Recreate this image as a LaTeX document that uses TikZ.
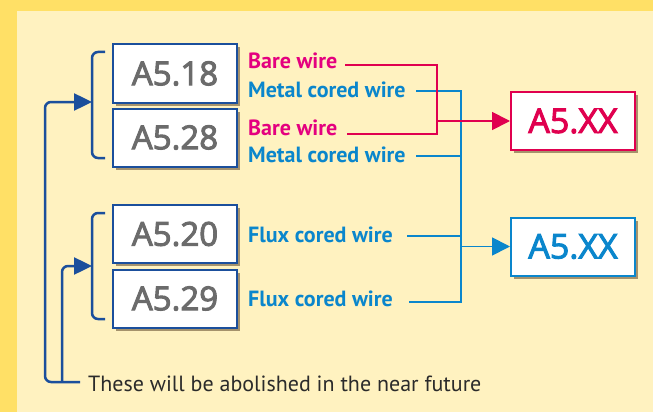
\documentclass[tikz,border=0pt]{standalone}
\usepackage{fontspec}
\setmainfont{PT Sans}
\newfontfamily\boxfont[FakeBold=3]{Open Sans}
\usetikzlibrary{shadows,arrows.meta}
\definecolor{outerY}{HTML}{FFE066}
\definecolor{innerY}{HTML}{FFF2C0}
\definecolor{dblue}{HTML}{1B4F9C}
\definecolor{lblue}{HTML}{0A86CC}
\definecolor{mag}{HTML}{E4007F}
\definecolor{crim}{HTML}{E0004F}
\definecolor{gtext}{HTML}{6B6B6B}
\definecolor{btext}{HTML}{2B2B2B}
\tikzset{
  oldbox/.style={draw=dblue, line width=2pt, fill=white, minimum width=124pt, minimum height=58pt, inner sep=0pt,
    font=\boxfont\fontsize{33}{33}\selectfont, text=gtext,
    drop shadow={shadow xshift=3pt, shadow yshift=-3pt, fill=black!60!brown, opacity=0.5}},
  newbox/.style={line width=2pt, fill=white, minimum width=124pt, minimum height=58pt, inner sep=0pt,
    font=\boxfont\fontsize{34}{34}\selectfont,
    drop shadow={shadow xshift=3pt, shadow yshift=-3pt, fill=black!60!brown, opacity=0.5}},
  lbl/.style={anchor=base west, inner sep=0pt, font=\bfseries\fontsize{22}{22}\selectfont},
  brk/.style={draw=dblue, line width=2.5pt, rounded corners=6pt},
  darr/.style={draw=dblue, line width=2.5pt, rounded corners=6pt, -{Triangle[length=18pt,width=17pt]}},
  rline/.style={draw=crim, line width=1.8pt},
  bline/.style={draw=lblue, line width=1.8pt},
}
\begin{document}
\begin{tikzpicture}[x=1pt,y=-1pt]
\fill[outerY] (0,0) rectangle (653,412);
\fill[innerY] (17,11) rectangle (653,412);
\useasboundingbox (0,0) rectangle (653,412);

% old standard boxes
\node[oldbox] (a518) at (175,73.5) {A5.18};
\node[oldbox] (a528) at (175,137.5) {A5.28};
\node[oldbox] (a520) at (175,234) {A5.20};
\node[oldbox] (a529) at (175,298.5) {A5.29};

% new boxes
\node[newbox, draw=crim, text=crim] (xxr) at (573,121) {A5.XX};
\node[newbox, draw=lblue, text=lblue] (xxb) at (573,246.5) {A5.XX};

% labels
\node[lbl, text=mag] (bw1) at (248,68) {Bare wire};
\node[lbl, text=lblue] (mc1) at (248,97) {Metal cored wire};
\node[lbl, text=mag] (bw2) at (248,135) {Bare wire};
\node[lbl, text=lblue] (mc2) at (248,162) {Metal cored wire};
\node[lbl, text=lblue] (fc1) at (248,242) {Flux cored wire};
\node[lbl, text=lblue] (fc2) at (248,306) {Flux cored wire};

\node[anchor=base west, inner sep=0pt, text=btext, font=\fontsize{22}{22}\selectfont] (note) at (88,391) {These will be abolished in the near future};

% brackets
\draw[brk] (105,52) -- (92,52) -- (92,158) -- (105,158);
\draw[brk] (105,213) -- (92,213) -- (92,319) -- (105,319);
\coordinate (b1) at (92,102);
\coordinate (b2) at (92,266);

% blue return arrows
\coordinate (foot) at (80,382);
\draw[darr] (foot) -- (45,382) -- (45,102) -- (b1);
\draw[darr] (62,382) -- (62,266) -- (b2);

% blue connectors
\coordinate (m1) at (416,91);
\coordinate (m2) at (416,156);
\coordinate (f1) at (407,236);
\coordinate (f2) at (409,302);
\coordinate (bj) at (461,246.5);
\draw[bline] (m1) -- (461,91) -- (461,302) -- (f2);
\draw[bline] (m2) -- (461,156);
\draw[bline] (f1) -- (461,236);
\draw[bline, -{Triangle[length=18pt,width=18pt]}] (bj) -- (xxb.west);

% red connectors
\coordinate (r1) at (345,65);
\coordinate (r2) at (347,134);
\coordinate (rj) at (437,121);
\draw[rline] (r1) -- (437,65) -- (437,134) -- (r2);
\draw[rline, -{Triangle[length=18pt,width=18pt]}] (rj) -- (xxr.west);
\end{tikzpicture}
\end{document}
